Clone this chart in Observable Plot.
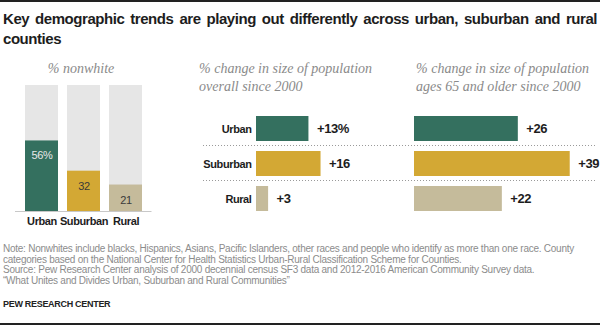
<!DOCTYPE html>
<html><head><meta charset="utf-8">
<script src="https://cdn.jsdelivr.net/npm/d3@7"></script>
<script src="https://cdn.jsdelivr.net/npm/@observablehq/plot@0.6"></script>
<style>
body{margin:0;background:#fff;}
#root{position:relative;width:600px;height:326px;overflow:hidden;font-family:"Liberation Sans",Arial,sans-serif;background:#fff;}
.abs{position:absolute;}
#topline{left:0;top:0;width:600px;height:2px;background:#222;}
#botline{left:0;top:323px;width:600px;height:2px;background:#222;}
#title{left:3px;top:9px;width:594px;font-family:"Liberation Sans",sans-serif;font-weight:bold;font-size:15px;letter-spacing:-0.45px;line-height:20px;color:#1d1d1d;text-align:justify;}
.sub{font-family:"Liberation Serif",serif;font-style:italic;font-size:14px;line-height:17.5px;color:#8a8a8a;white-space:nowrap;}
#sub1{left:0;width:162px;text-align:center;top:60px;}
#sub2{left:199px;top:60px;}
#sub3{left:416px;top:60px;}
#notes{left:3px;top:244px;font-size:10px;letter-spacing:-0.25px;line-height:10.6px;color:#8c8c8c;white-space:nowrap;}
#pew{left:3px;top:299px;font-family:"Liberation Sans",sans-serif;font-weight:bold;font-size:9px;letter-spacing:-0.3px;color:#222;}
#p1{left:0;top:60px;}
#p2{left:180px;top:95px;}
#p3{left:390px;top:95px;}
</style></head>
<body>
<div id="root">
  <div id="topline" class="abs"></div>
  <div id="title" class="abs"></div>
  <div id="sub1" class="abs sub"></div>
  <div id="sub2" class="abs sub"></div>
  <div id="sub3" class="abs sub"></div>
  <div id="p1" class="abs"></div>
  <div id="p2" class="abs"></div>
  <div id="p3" class="abs"></div>
  <div id="notes" class="abs"></div>
  <div id="pew" class="abs"></div>
  <div id="botline" class="abs"></div>
</div>
<script>
// ---- data ----
const titleText = "Key demographic trends are playing out differently across urban, suburban and rural counties";
const categories = ["Urban", "Suburban", "Rural"];
const colors = ["#34705f", "#d3a834", "#c5bb9b"];
const nonwhite = [56, 32, 21];
const nonwhiteLabels = ["56%", "32", "21"];
const nonwhiteLabelColors = ["#e8e8e8", "#3a3a3a", "#3a3a3a"];
const nonwhiteTotal = 100;
const popChange = [13, 16, 3];
const popLabels = ["+13%", "+16", "+3"];
const olderChange = [26, 39, 22];
const olderLabels = ["+26", "+39", "+22"];
const subtitles = ["% nonwhite",
  "% change in size of population<br>overall since 2000",
  "% change in size of population<br>ages 65 and older since 2000"];
const noteLines = [
  "Note: Nonwhites include blacks, Hispanics, Asians, Pacific Islanders, other races and people who identify as more than one race. County",
  "categories based on the National Center for Health Statistics Urban-Rural Classification Scheme for Counties.",
  "Source: Pew Research Center analysis of 2000 decennial census SF3 data and 2012-2016 American Community Survey data.",
  "\u201cWhat Unites and Divides Urban, Suburban and Rural Communities\u201d"
];
const sourceName = "PEW RESEARCH CENTER";

// ---- text ----
document.getElementById("title").textContent = titleText;
document.getElementById("sub1").innerHTML = subtitles[0];
document.getElementById("sub2").innerHTML = subtitles[1];
document.getElementById("sub3").innerHTML = subtitles[2];
document.getElementById("notes").innerHTML = noteLines.join("<br>");
document.getElementById("pew").textContent = sourceName;

const sans = "'Liberation Sans',Arial,sans-serif";
const rows1 = categories.map((c, i) => ({cat: c, v: nonwhite[i], label: nonwhiteLabels[i], lc: nonwhiteLabelColors[i], total: nonwhiteTotal}));
const rows2 = categories.map((c, i) => ({cat: c, v: popChange[i], label: popLabels[i]}));
const rows3 = categories.map((c, i) => ({cat: c, v: olderChange[i], label: olderLabels[i]}));
const colorScale = {domain: categories, range: colors};

// ---- panel 1: % nonwhite ----
const p1 = Plot.plot({
  width: 165, height: 175,
  marginLeft: 15, marginRight: 13.5, marginTop: 25, marginBottom: 24,
  style: {background: "transparent", fontFamily: sans},
  x: {domain: categories, padding: 0.22, align: 0.5, axis: null},
  y: {domain: [0, 100], axis: null},
  color: colorScale,
  marks: [
    Plot.barY(rows1, {x: "cat", y: "total", fill: "#e6e6e6"}),
    Plot.barY(rows1, {x: "cat", y: "v", fill: "cat"}),
    Plot.ruleY([0], {stroke: "#c8c8c8"}),
    Plot.text(rows1, {x: "cat", y: "v", text: "label", dy: 15, fill: "lc", fontSize: 11}),
    Plot.axisX({tickSize: 0, tickPadding: 6, fontSize: 11, fontWeight: "bold", fill: "#1d1d1d", label: null})
  ]
});
p1.querySelectorAll("text").forEach(n => n.style.letterSpacing = "-0.4px");
document.getElementById("p1").appendChild(p1);

// ---- panels 2 & 3: horizontal bars ----
function hbar(rows, opts) {
  const svg = Plot.plot({
    width: 210, height: 135,
    marginLeft: opts.ml, marginRight: opts.mr, marginTop: 10, marginBottom: 9,
    style: {background: "transparent", fontFamily: sans, overflow: "visible"},
    y: {domain: categories, padding: 0.29, align: 0.5, axis: null},
    x: {domain: [0, opts.max], axis: null},
    color: colorScale,
    marks: [
      Plot.ruleY(categories.slice(1), {y: d => d, stroke: "#9a9a9a", strokeDasharray: "1,2", shapeRendering: "crispEdges", dy: -19, insetLeft: opts.sepL, insetRight: opts.sepR}),
      Plot.barX(rows, {y: "cat", x: "v", fill: "cat"}),
      Plot.text(rows, {y: "cat", x: "v", text: "label", dx: 8, textAnchor: "start", fontSize: 13, fontWeight: "bold", fill: "#1d1d1d"}),
      ...(opts.labels ? [Plot.axisY({tickSize: 0, tickPadding: 5, fontSize: 11, fontWeight: "bold", fill: "#1d1d1d", label: null})] : [])
    ]
  });
  svg.querySelectorAll("text").forEach(n => n.style.letterSpacing = "-0.4px");
  return svg;
}
document.getElementById("p2").appendChild(hbar(rows2, {ml: 76, mr: 13, max: 30, labels: true, sepL: -53, sepR: -13}));
document.getElementById("p3").appendChild(hbar(rows3, {ml: 24, mr: 16.3, max: 42.5, labels: false, sepL: -24, sepR: -13}));
</script>
</body></html>
